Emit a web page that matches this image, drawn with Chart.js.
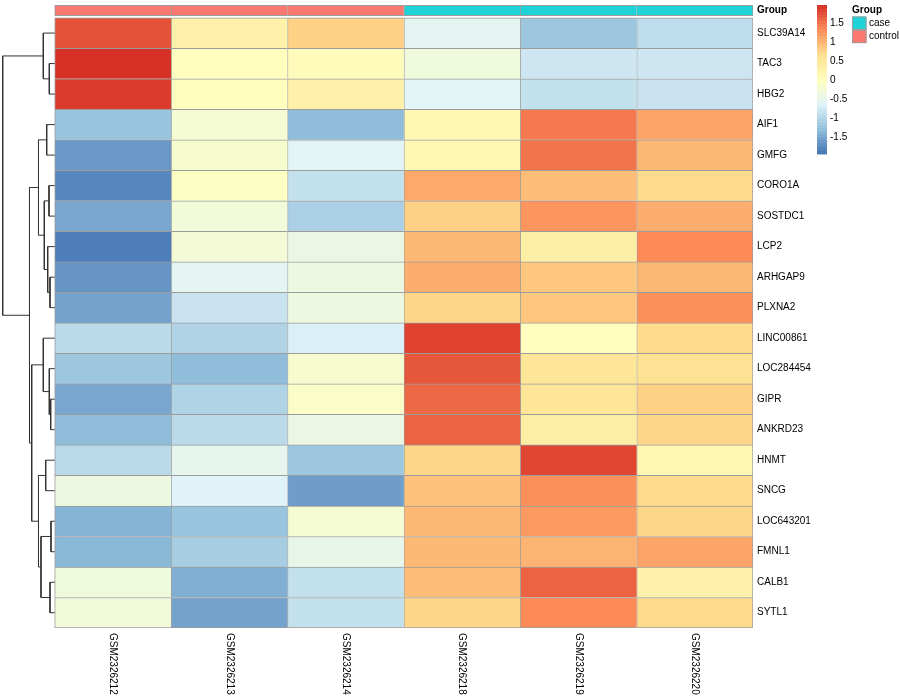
<!DOCTYPE html>
<html>
<head>
<meta charset="utf-8">
<script src="https://cdn.jsdelivr.net/npm/chart.js@4/dist/chart.umd.min.js"></script>
<style>html,body{margin:0;padding:0;background:#fff}canvas{display:block}</style>
</head>
<body>
<canvas id="c" width="900" height="700"></canvas>
<script>
// ---------------- data ----------------
const genes = ['SLC39A14','TAC3','HBG2','AIF1','GMFG','CORO1A','SOSTDC1','LCP2','ARHGAP9','PLXNA2',
  'LINC00861','LOC284454','GIPR','ANKRD23','HNMT','SNCG','LOC643201','FMNL1','CALB1','SYTL1'];
const samples = ['GSM2326212','GSM2326213','GSM2326214','GSM2326218','GSM2326219','GSM2326220'];
const groups = ['control','control','control','case','case','case'];
const groupLevels = ['case','control'];

// row-scaled expression (z-scores), one array per sample, in gene order
const gsm212 = [1.72,1.98,1.90,-1.20,-1.58,-1.75,-1.47,-1.82,-1.65,-1.50,-0.92,-1.15,-1.48,-1.30,-0.93,-0.35,-1.38,-1.32,-0.30,-0.28];
const gsm213 = [0.33,0.03,0.05,-0.20,-0.15,-0.05,-0.25,-0.22,-0.55,-0.80,-1.00,-1.27,-1.03,-0.95,-0.50,-0.62,-1.20,-1.10,-1.40,-1.52];
const gsm214 = [0.78,0.08,0.30,-1.27,-0.60,-0.85,-1.05,-0.40,-0.35,-0.35,-0.65,-0.15,-0.08,-0.38,-1.15,-1.55,-0.18,-0.48,-0.85,-0.85];
const gsm218 = [-0.56,-0.32,-0.60,0.20,0.20,1.10,0.77,1.00,1.05,0.75,1.85,1.68,1.55,1.60,0.75,0.92,0.97,1.00,0.95,0.75];
const gsm219 = [-1.15,-0.78,-0.85,1.45,1.50,0.95,1.25,0.35,0.85,0.85,0.05,0.55,0.55,0.40,1.82,1.30,1.22,1.02,1.62,1.35];
const gsm220 = [-0.91,-0.78,-0.82,1.12,1.00,0.72,1.05,1.32,1.00,1.30,0.72,0.62,0.78,0.75,0.20,0.70,0.75,1.15,0.30,0.72];
const columns = [gsm212, gsm213, gsm214, gsm218, gsm219, gsm220];

// colour-scale breaks
const colorRange = [-1.93, 1.98];
const legendTicks = [1.5, 1, 0.5, 0, -0.5, -1, -1.5];

// row dendrogram (hclust style: negative = leaf number, positive = earlier merge number)
const mergeLeft   = [-17,-13,-9,-19,-2,-12,-6,-8,-4,-15, 7,-1,-11, 1, 9,10,13,15,12];
const mergeRight  = [-18,-14,-10,-20,-3, 2,-7, 3,-5,-16, 8, 5, 6, 4,11,14,16,17,18];
const mergeHeight = [3.7,4.0,4.7,4.7,5.4,5.4,5.7,7.0,8.0,9.0,10.4,11.4,11.4,13.7,16.2,16.2,23.0,25.2,52.0];

// ---------------- styling / helpers ----------------
const FONT = '"Liberation Sans", Arial, Helvetica, sans-serif';
const PALETTE = ['#4575B4','#91BFDB','#E0F3F8','#FFFFBF','#FEE090','#FC8D59','#D73027'];
const GROUP_COLORS = {case: '#1DD3D8', control: '#F9786F'};
const BORDER = '#9C9C9C';
const NCOL = 100;

function hex2rgb(h){ return [1,3,5].map(i => parseInt(h.substr(i,2),16)); }
function ramp(t){
  const p = t * (PALETTE.length - 1);
  const i = Math.min(Math.floor(p), PALETTE.length - 2);
  const f = p - i;
  const a = hex2rgb(PALETTE[i]), b = hex2rgb(PALETTE[i+1]);
  const c = a.map((v,k) => Math.round(v + (b[k]-v)*f));
  return `rgb(${c[0]},${c[1]},${c[2]})`;
}
const bins = Array.from({length: NCOL}, (_, k) => ramp(k / (NCOL - 1)));
const VMIN = colorRange[0], VMAX = colorRange[1];
function colorFor(v){
  const k = Math.max(0, Math.min(NCOL - 1, Math.floor((v - VMIN) / (VMAX - VMIN) * NCOL)));
  return bins[k];
}

// dendrogram segments
const nodeY = [], nodeH = [], tree = [];
function nodePos(k){ return k < 0 ? {y: -k - 1, h: 0} : {y: nodeY[k-1], h: nodeH[k-1]}; }
mergeHeight.forEach((h, i) => {
  const a = nodePos(mergeLeft[i]), b = nodePos(mergeRight[i]);
  tree.push({x: a.h, y: a.y}, {x: h, y: a.y}, {x: h, y: b.y}, {x: b.h, y: b.y}, {x: null, y: null});
  nodeY[i] = (a.y + b.y) / 2; nodeH[i] = h;
});

// layout
const CANVAS_H = 700;
const PAD = {left: 2, top: 5, right: 0, bottom: 72};
const ROW_MIN = -0.92, ROW_MAX = genes.length - 0.5;
const ROW_PX = (CANVAS_H - PAD.top - PAD.bottom) / (ROW_MAX - ROW_MIN);
const ANNOT_Y = -0.74;
const DENDRO_COLS = 0.4528;
const XD_MAX = 52.7;
const XD_MIN = -XD_MAX * samples.length / DENDRO_COLS;

const last = samples.length - 1;
const heatSets = columns.map((col, ci) => ({
  type: 'bar', label: samples[ci], xAxisID: 'x', yAxisID: 'y', stack: 'heat',
  data: col.map((v, gi) => ({x: 1, y: gi})),
  backgroundColor: col.map(colorFor),
  borderColor: BORDER,
  borderWidth: c => ({left: 1, top: 1, right: ci === last ? 1 : 0, bottom: c.dataIndex === genes.length - 1 ? 1 : 0}),
  borderSkipped: false, grouped: false, barThickness: ROW_PX, order: 2
}));
const annotSets = groups.map((g, ci) => ({
  type: 'bar', label: g, xAxisID: 'x', yAxisID: 'ya', stack: 'annot',
  data: [{x: 1, y: ANNOT_Y}],
  backgroundColor: GROUP_COLORS[g],
  borderColor: BORDER,
  borderWidth: {left: 1, top: 1, bottom: 1, right: ci === last ? 1 : 0},
  borderSkipped: false, grouped: false, barThickness: 10.4, order: 2
}));
const treeSet = {
  type: 'line', label: 'tree', xAxisID: 'xd', yAxisID: 'y',
  data: tree, borderColor: '#333333', borderWidth: 1, pointRadius: 0,
  spanGaps: false, fill: false, tension: 0, order: 1
};

const overlay = {
  id: 'overlay',
  afterDraw(chart){
    const {ctx, chartArea: a} = chart;
    const x = chart.scales.x, ya = chart.scales.ya;
    ctx.save();
    ctx.fillStyle = '#000';
    ctx.textAlign = 'left';
    ctx.textBaseline = 'middle';
    // sample labels, rotated clockwise
    ctx.font = `10px ${FONT}`;
    samples.forEach((s, i) => {
      ctx.save();
      ctx.translate(x.getPixelForValue(i + 0.5), a.bottom + 5);
      ctx.rotate(Math.PI / 2);
      ctx.fillText(s, 0, 0);
      ctx.restore();
    });
    // annotation row title
    ctx.font = `bold 10px ${FONT}`;
    ctx.fillText('Group', a.right + 4, ya.getPixelForValue(ANNOT_Y));
    // colour key
    const cbX = a.right + 64, cbW = 10, cbTop = a.top, cbH = 149;
    for (let k = 0; k < NCOL; k++) {
      const y0 = cbTop + cbH * (1 - (k + 1) / NCOL);
      ctx.fillStyle = bins[k];
      ctx.fillRect(cbX, y0, cbW, cbH / NCOL + 0.4);
    }
    ctx.fillStyle = '#000';
    ctx.font = `10px ${FONT}`;
    legendTicks.forEach(t => {
      const y = cbTop + (VMAX - t) / (VMAX - VMIN) * cbH;
      ctx.fillText(String(t), cbX + 13, y);
    });
    // group legend
    const gx = a.right + 99;
    ctx.font = `bold 10px ${FONT}`;
    ctx.fillText('Group', gx, a.top + 5);
    ctx.font = `10px ${FONT}`;
    groupLevels.forEach((g, i) => {
      const by = a.top + 11.5 + i * 13.3;
      ctx.fillStyle = GROUP_COLORS[g];
      ctx.fillRect(gx, by, 14.5, 13.3);
      ctx.strokeStyle = BORDER;
      ctx.lineWidth = 1;
      ctx.strokeRect(gx + 0.5, by + 0.5, 13.5, 12.3);
      ctx.fillStyle = '#000';
      ctx.fillText(g, gx + 17, by + 6.8);
    });
    ctx.restore();
  }
};

new Chart(document.getElementById('c'), {
  type: 'bar',
  data: {datasets: [...heatSets, ...annotSets, treeSet]},
  options: {
    indexAxis: 'y',
    responsive: false,
    animation: false,
    events: [],
    layout: {autoPadding: false, padding: PAD},
    plugins: {legend: {display: false}, tooltip: {enabled: false}},
    scales: {
      x: {type: 'linear', axis: 'x', stacked: true, offset: false, min: -DENDRO_COLS, max: samples.length, display: false},
      xd: {type: 'linear', axis: 'x', offset: false, reverse: true, min: XD_MIN, max: XD_MAX, display: false},
      ya: {type: 'linear', axis: 'y', offset: false, reverse: true, min: ROW_MIN, max: ROW_MAX, display: false},
      y: {
        type: 'linear', axis: 'y', position: 'right', offset: false, reverse: true, min: ROW_MIN, max: ROW_MAX,
        afterBuildTicks: s => { s.ticks = genes.map((g, i) => ({value: i})); },
        afterFit: s => { s.width = 147; s.paddingTop = 0; s.paddingBottom = 0; },
        ticks: {callback: v => genes[v], autoSkip: false, padding: 4, color: '#000', font: {family: FONT, size: 10}},
        grid: {display: false, drawTicks: false, offset: false},
        border: {display: false}
      }
    }
  },
  plugins: [overlay]
});
</script>
</body>
</html>
